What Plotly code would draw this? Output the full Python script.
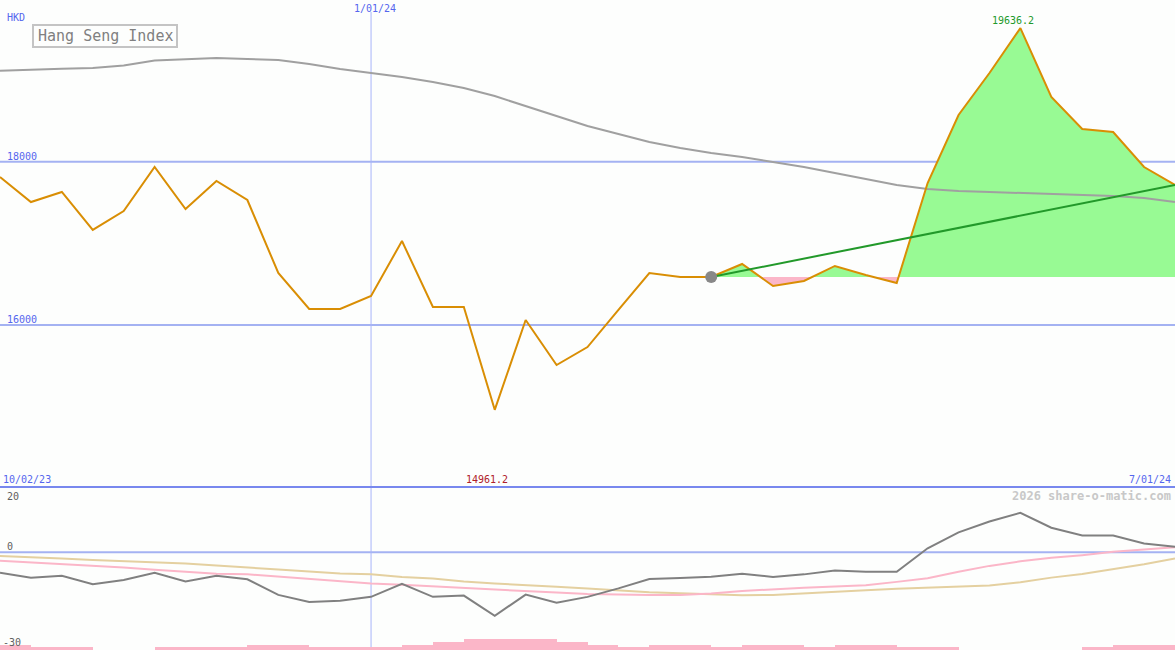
import numpy as np
import pandas as pd
import plotly.graph_objects as go

# ---------------- data ----------------
start_date = "2023-10-09"
n_weeks = 39
dates = pd.date_range(start_date, periods=n_weeks, freq="7D")

close = [17813, 17506, 17629, 17164, 17396, 17935, 17421, 17764, 17531, 16637,
         16196, 16196, 16355, 17029, 16220, 16220, 14961.2, 16061, 15510, 15730,
         16184, 16637, 16588, 16588, 16747, 16478, 16539, 16723, 16612, 16514,
         17739, 18572, 19086, 19636.2, 18792, 18400, 18364, 17935, 17715]

ma_long = [19114, 19129, 19138, 19148, 19178, 19239, 19258, 19270, 19258, 19246,
           19197, 19135, 19086, 19037, 18976, 18902, 18804, 18682, 18559, 18437,
           18339, 18241, 18168, 18106, 18057, 17996, 17935, 17862, 17788, 17715,
           17666, 17641, 17629, 17617, 17605, 17592, 17580, 17556, 17506]

osc_gray = [-6.3, -7.8, -7.2, -9.8, -8.5, -6.3, -9.0, -7.2, -8.3, -13.1,
            -15.3, -14.9, -13.7, -9.7, -13.7, -13.3, -19.5, -13.0, -15.5, -13.7,
            -11.1, -8.2, -7.9, -7.5, -6.6, -7.6, -6.8, -5.6, -6.0, -6.0,
            1.2, 6.1, 9.4, 12.1, 7.5, 5.1, 5.1, 2.7, 1.7]

osc_pink = [-2.6, -3.1, -3.6, -4.1, -4.7, -5.4, -6.0, -6.6, -6.8, -7.5,
            -8.3, -9.1, -9.6, -10.0, -10.5, -11.0, -11.6, -12.1, -12.4, -12.8,
            -13.0, -13.1, -13.1, -12.7, -11.9, -11.3, -10.9, -10.5, -10.1, -9.1,
            -8.0, -6.0, -4.2, -2.8, -1.7, -0.9, 0.1, 0.8, 1.5]

osc_tan = [-1.2, -1.5, -1.9, -2.4, -2.7, -3.1, -3.5, -4.1, -4.8, -5.3,
           -5.9, -6.5, -6.8, -7.6, -8.1, -9.0, -9.6, -10.0, -10.6, -11.1,
           -11.7, -12.3, -12.6, -13.0, -13.2, -13.1, -12.7, -12.3, -11.7, -11.2,
           -10.8, -10.4, -10.2, -9.2, -7.8, -6.7, -5.2, -3.7, -1.9]

bar_level = [2, 1, 1, 0, 0, 1, 1, 1, 2, 2,
             1, 1, 1, 2, 3, 4, 4, 4, 3, 2,
             1, 2, 2, 1, 2, 2, 1, 2, 2, 1,
             1, 0, 0, 0, 0, 1, 2, 2]

anchor_idx = 23
title_text = "Hang Seng Index"
currency = "HKD"
y_ticks_main = [18000, 16000]
y_ticks_low = [20, 0, -30]
date_mid_label = "1/01/24"
date_mid = "2024-01-01"
date_left_label = "10/02/23"
date_right_label = "7/01/24"
max_label = "19636.2"
min_label = "14961.2"
credit = "2026 share-o-matic.com"

# ---------------- styling ----------------
W, H = 1175, 650
split_px = 487
FONT = "DejaVu Sans Mono"
BLUE_TXT = "#5566ee"
GRID = "#a4b2f2"
SEP = "#7888ee"
ORANGE = "#d98e04"
BG = "#fdfefd"

def pxx(x):
    return x / W

def pxy(y):
    return 1 - y / H

low_top = pxy(split_px)

fig = go.Figure()

# fill between price and anchor level from the anchor point onward
base = close[anchor_idx]
fx, fup, fdn = [], [], []
for i in range(anchor_idx, n_weeks):
    fx.append(dates[i]); fup.append(max(close[i], base)); fdn.append(min(close[i], base))
    if i < n_weeks - 1:
        a, b = close[i] - base, close[i + 1] - base
        if a * b < 0:
            f = a / (a - b)
            t = dates[i] + (dates[i + 1] - dates[i]) * f
            fx.append(t); fup.append(base); fdn.append(base)
fbase = [base] * len(fx)

fig.add_trace(go.Scatter(x=fx, y=fbase, mode="lines", line=dict(width=0),
                         hoverinfo="skip"))
fig.add_trace(go.Scatter(x=fx, y=fup, mode="lines", line=dict(width=0),
                         fill="tonexty", fillcolor="#98fa94", hoverinfo="skip"))
fig.add_trace(go.Scatter(x=fx, y=fbase, mode="lines", line=dict(width=0),
                         hoverinfo="skip"))
fig.add_trace(go.Scatter(x=fx, y=fdn, mode="lines", line=dict(width=0),
                         fill="tonexty", fillcolor="#fbb6c8", hoverinfo="skip"))

# gray long moving average (drawn over the fill)
fig.add_trace(go.Scatter(x=dates, y=ma_long, mode="lines",
                         line=dict(color="#a0a0a0", width=2), hoverinfo="skip"))

# price line
fig.add_trace(go.Scatter(x=dates, y=close, mode="lines",
                         line=dict(color=ORANGE, width=2), hoverinfo="skip"))

# trend line from anchor to last
fig.add_trace(go.Scatter(x=[dates[anchor_idx], dates[-1]],
                         y=[close[anchor_idx], close[-1]], mode="lines",
                         line=dict(color="#22992a", width=2), hoverinfo="skip"))

# anchor dot
fig.add_trace(go.Scatter(x=[dates[anchor_idx]], y=[close[anchor_idx]], mode="markers",
                         marker=dict(color="#888888", size=12), hoverinfo="skip"))

# ---------------- lower panel ----------------
week_ms = 7 * 86400000
fig.add_trace(go.Bar(x=dates[:-1], y=bar_level, width=week_ms, offset=0,
                     marker=dict(color="#fbb6c8", line=dict(width=0)),
                     xaxis="x", yaxis="y3", hoverinfo="skip"))
fig.add_trace(go.Scatter(x=dates, y=osc_tan, mode="lines",
                         line=dict(color="#e4d0a0", width=2),
                         xaxis="x", yaxis="y2", hoverinfo="skip"))
fig.add_trace(go.Scatter(x=dates, y=osc_pink, mode="lines",
                         line=dict(color="#fbb6c8", width=2),
                         xaxis="x", yaxis="y2", hoverinfo="skip"))
fig.add_trace(go.Scatter(x=dates, y=osc_gray, mode="lines",
                         line=dict(color="#808080", width=2),
                         xaxis="x", yaxis="y2", hoverinfo="skip"))

# main y range from pixel mapping (18000 at 161.7 px, 16000 at 325 px)
ppu = (325 - 161.7) / 2000.0
ymax = 18000 + 161.7 / ppu
ymin = 18000 - (split_px - 161.7) / ppu

shapes = []
for v in y_ticks_main:
    shapes.append(dict(type="line", xref="paper", yref="y", x0=0, x1=1, y0=v, y1=v,
                       line=dict(color=GRID, width=2), layer="below"))
shapes.append(dict(type="line", xref="paper", yref="y2", x0=0, x1=1, y0=0, y1=0,
                   line=dict(color=GRID, width=2), layer="below"))
shapes.append(dict(type="line", xref="x", yref="paper", x0=date_mid, x1=date_mid,
                   y0=0, y1=pxy(12), line=dict(color="#a8b4fa", width=1), layer="below"))
shapes.append(dict(type="line", xref="paper", yref="paper", x0=0, x1=1,
                   y0=low_top, y1=low_top, line=dict(color=SEP, width=2)))
# title box
shapes.append(dict(type="rect", xref="paper", yref="paper",
                   x0=pxx(33), x1=pxx(177), y0=pxy(25), y1=pxy(47),
                   line=dict(color="#c4c4c4", width=2), fillcolor=BG))

ann = []
def txt(s, x, y, color, size=10, xanchor="left", weight=None):
    f = dict(family=FONT, size=size, color=color)
    if weight:
        f["weight"] = weight
    ann.append(dict(text=s, xref="paper", yref="paper", x=pxx(x), y=pxy(y),
                    xanchor=xanchor, yanchor="middle", showarrow=False, font=f))

txt(currency, 5, 18, BLUE_TXT)
txt(date_mid_label, 375, 9, BLUE_TXT, xanchor="center")
txt(str(y_ticks_main[0]), 5, 156, BLUE_TXT)
txt(str(y_ticks_main[1]), 5, 319, BLUE_TXT)
txt(date_left_label, 1, 479, BLUE_TXT)
txt(min_label, 486.5, 479, "#b02028", xanchor="center")
txt(date_right_label, 1173, 479, BLUE_TXT, xanchor="right")
txt(max_label, 1012.5, 21, "#22992a", xanchor="center")
txt(title_text, 36, 36, "#808080", size=15)
txt(credit, 1173, 496, "#c8c8c8", size=12, xanchor="right", weight="bold")
txt(str(y_ticks_low[0]), 5, 496, "#606060")
txt(str(y_ticks_low[1]), 5, 546, "#606060")
txt(str(y_ticks_low[2]), 1, 642, "#606060")

fig.update_layout(
    width=W, height=H,
    margin=dict(l=0, r=0, t=0, b=0),
    paper_bgcolor=BG, plot_bgcolor=BG,
    showlegend=False,
    bargap=0,
    xaxis=dict(range=[dates[0], dates[-1]], showgrid=False, zeroline=False,
               showticklabels=False, showline=False, fixedrange=True),
    yaxis=dict(domain=[low_top, 1], range=[ymin, ymax], showgrid=False,
               zeroline=False, showticklabels=False, fixedrange=True),
    yaxis2=dict(domain=[0, low_top], range=[-30, 20], showgrid=False,
                zeroline=False, showticklabels=False, fixedrange=True),
    yaxis3=dict(domain=[0, low_top], range=[0, 60], overlaying="y2",
                showgrid=False, zeroline=False, showticklabels=False, fixedrange=True),
    shapes=shapes,
    annotations=ann,
)

post = ("document.body.style.margin='0';document.body.style.padding='0';"
        "document.body.style.overflow='hidden';"
        "document.body.style.background='" + BG + "';")
fig.write_html("out.html", config={"displayModeBar": False}, post_script=post)
